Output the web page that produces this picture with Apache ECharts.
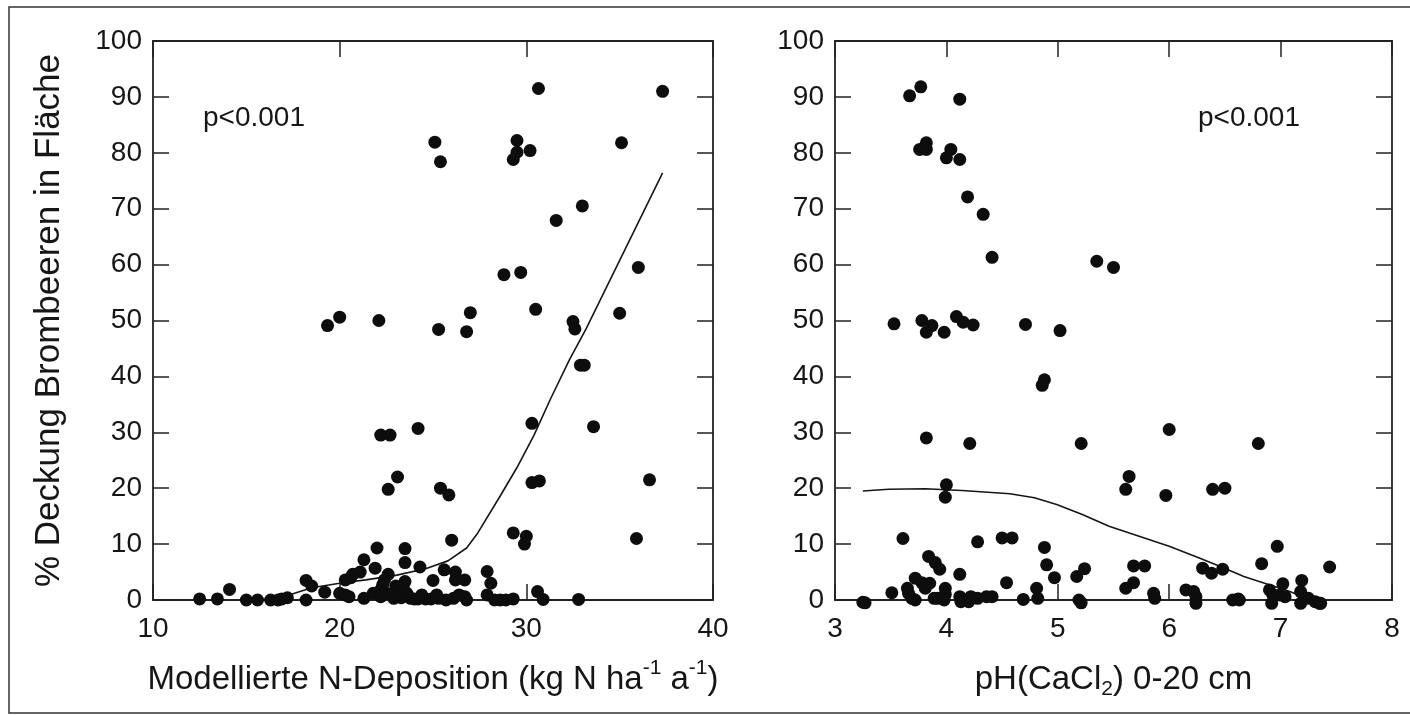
<!DOCTYPE html>
<html>
<head>
<meta charset="utf-8">
<script src="https://cdn.jsdelivr.net/npm/echarts@6/dist/echarts.min.js"></script>
<style>
html,body{margin:0;padding:0;background:#fff;}
#chart{width:1410px;height:715px;}
</style>
</head>
<body>
<div id="chart"></div>
<script>
// ---- Data ----
// Left panel: modelled N deposition (kg N ha-1 a-1) vs % bramble cover
const nDepPoints = [
  [30.65,91.5],[37.3,91.0],[25.1,81.9],[25.4,78.4],[29.5,82.2],[29.5,80.1],[29.3,78.8],[30.2,80.4],
  [35.1,81.8],[33.0,70.5],[31.6,67.9],[28.8,58.2],[29.7,58.6],[36.0,59.5],[30.5,52.0],[35.0,51.3],
  [32.5,49.8],[32.6,48.5],[19.35,49.1],[20.0,50.6],[22.1,50.0],[25.3,48.4],[26.8,48.0],[27.0,51.4],
  [32.9,42.0],[33.1,42.0],[33.6,31.0],[30.3,31.6],[22.2,29.5],[22.7,29.5],[24.2,30.7],[23.1,22.0],
  [22.6,19.8],[25.4,20.0],[25.85,18.8],[30.3,21.0],[30.7,21.3],[36.6,21.5],[29.3,12.0],[30.0,11.4],
  [29.9,10.0],[35.9,11.0],[26.0,10.7],[22.0,9.3],[23.5,9.2],[21.3,7.2],[23.5,6.7],[24.3,5.9],
  [25.6,5.4],[26.2,5.0],[27.9,5.1],[21.9,5.7],[20.7,4.6],[20.6,4.0],[20.3,3.6],[21.1,5.0],
  [22.6,4.6],[18.2,3.5],[18.5,2.5],[19.2,1.4],[14.1,1.9],
  [12.5,0.2],[13.45,0.2],[15.0,0],[15.6,0],[16.3,0],[16.7,0],[16.9,0.2],[17.2,0.4],[18.2,0],
  [20.0,1.2],[20.3,0.9],[20.5,0.6],[21.3,0.3],[21.8,1.2],[22.2,1.8],[22.3,2.7],[22.4,3.6],
  [22.2,0.6],[23.0,2.5],[23.1,1.6],[23.2,0.9],[23.3,0.4],[23.4,2.1],[23.6,1.2],[23.8,0.3],
  [24.0,0.2],[24.2,0.2],[24.6,0.2],[25.0,3.5],[25.2,0.9],[25.3,0.3],[25.7,0],[26.1,0.3],
  [26.2,3.6],[26.7,3.6],[26.7,0.6],[26.8,0],[27.9,0.9],[28.1,3.0],[28.3,0],[28.6,0],
  [28.9,0],[29.3,0.2],[30.6,1.5],[30.9,0.1],[32.8,0.1],
  [22.5,1.2],[22.9,0.3],[23.5,3.3],[24.4,0.9],[24.9,0.2],[26.4,0.9]
];
const nDepFit = [
  [16.6,0.5],[17.5,1.1],[18.5,2.2],[20.0,3.0],[21.4,3.6],[23.0,4.4],[24.6,5.6],[25.8,7.0],
  [26.8,9.3],[27.4,12.0],[28.6,18.6],[29.5,23.7],[30.4,29.4],[31.3,36.0],[32.3,42.9],[33.2,48.5],
  [37.3,76.4]
];
// Right panel: pH(CaCl2) 0-20 cm vs % bramble cover
const phPoints = [
  [3.67,90.2],[3.77,91.8],[4.12,89.6],[3.76,80.6],[3.82,81.8],[3.82,80.6],[4.04,80.6],[4.0,79.1],
  [4.12,78.8],[4.19,72.1],[4.33,69.0],[4.41,61.3],[5.35,60.6],[5.50,59.5],[3.53,49.4],[3.78,50.0],
  [3.87,49.1],[3.98,47.9],[3.82,47.9],[4.09,50.7],[4.15,49.7],[4.24,49.2],[4.71,49.3],[5.02,48.2],
  [4.86,38.4],[4.88,39.4],[3.82,29.0],[4.21,28.0],[5.21,28.0],[6.0,30.5],[6.8,28.0],[4.0,20.6],
  [3.99,18.4],[5.61,19.8],[5.64,22.1],[5.97,18.7],[6.39,19.8],[6.5,20.0],[3.61,11.0],[4.28,10.4],
  [4.5,11.1],[4.59,11.1],[4.88,9.4],[4.9,6.3],[6.97,9.6],[6.83,6.5],[7.44,5.9],[5.68,6.1],
  [5.78,6.1],[6.3,5.7],[6.38,4.8],[6.48,5.5],[5.24,5.6],[5.17,4.2],[4.97,4.0],[4.54,3.1],
  [4.12,4.6],[3.84,7.8],[3.9,6.7],[3.94,5.5],[3.72,3.9],[3.78,3.1],[3.85,3.0],[3.81,2.1],
  [3.65,2.1],[3.66,1.2],[3.69,0.3],[3.72,0],[3.51,1.3],[3.25,-0.4],[3.27,-0.5],[3.99,2.1],
  [3.99,1.0],[3.98,0],[3.89,0.3],[3.92,0.3],[4.12,0.6],[4.13,-0.3],[4.2,-0.3],[4.22,0.6],
  [4.28,0.3],[4.36,0.6],[4.41,0.6],[4.69,0.1],[4.81,2.1],[4.82,0.3],[5.19,0],[5.21,-0.5],
  [5.61,2.1],[5.68,3.1],[5.86,1.2],[5.87,0.3],[6.15,1.8],[6.22,1.5],[6.24,0.6],[6.24,-0.6],
  [6.57,0],[6.62,0.2],[6.63,0],[6.9,1.8],[6.93,0.9],[6.92,-0.6],[7.02,2.9],[7.04,0.6],
  [6.99,0.9],[7.19,3.5],[7.18,1.5],[7.18,-0.6],[7.25,0.3],[7.31,-0.3],[7.35,-0.6],[7.36,-0.6]
];
const phFit = [
  [3.25,19.5],[3.48,19.8],[3.81,19.9],[4.14,19.6],[4.57,19.0],[4.79,18.3],[4.99,17.1],[5.22,15.3],
  [5.46,13.2],[5.73,11.4],[6.0,9.6],[6.27,7.5],[6.47,5.9],[6.67,4.2],[6.87,2.9],[7.07,1.6],[7.15,1.0]
];
const leftXRange = [10, 40, 10];
const rightXRange = [3, 8, 1];
const yRange = [0, 100, 10];
const pLabel = 'p<0.001';
const yTitle = '% Deckung Brombeeren in Fläche';

// ---- Styling ----
const FONT = 'Liberation Sans, Arial, Helvetica, sans-serif';
const INK = '#161616';
const FRAME = '#222';

function xAxisPair(grid, range, name) {
  const base = {
    gridIndex: grid, type: 'value', min: range[0], max: range[1], interval: range[2],
    splitLine: {show: false},
    axisLine: {show: true, onZero: false, lineStyle: {color: FRAME, width: 1.8}},
    axisTick: {show: true, inside: true, length: 16, lineStyle: {color: FRAME, width: 1.5}}
  };
  return [
    Object.assign({}, base, {
      position: 'bottom',
      axisLabel: {show: true, margin: 15, color: INK, fontSize: 28, fontFamily: FONT},
      name: name.text, nameLocation: 'middle', nameGap: name.gap,
      nameTextStyle: name.style
    }),
    Object.assign({}, base, {position: 'top', axisLabel: {show: false}})
  ];
}
function yAxisPair(grid, withName) {
  const base = {
    gridIndex: grid, type: 'value', min: yRange[0], max: yRange[1], interval: yRange[2],
    splitLine: {show: false},
    axisLine: {show: true, onZero: false, lineStyle: {color: FRAME, width: 1.8}},
    axisTick: {show: true, inside: true, length: 16, lineStyle: {color: FRAME, width: 1.5}}
  };
  const left = Object.assign({}, base, {
    position: 'left',
    axisLabel: {show: true, margin: 11, color: INK, fontSize: 28, fontFamily: FONT}
  });
  if (withName) {
    Object.assign(left, {
      name: yTitle, nameLocation: 'middle', nameGap: 86,
      nameTextStyle: {color: INK, fontSize: 35, fontFamily: FONT}
    });
  }
  return [left, Object.assign({}, base, {position: 'right', axisLabel: {show: false}})];
}

const supRich = {
  base: {fontSize: 33, fontFamily: FONT, color: INK, lineHeight: 40, verticalAlign: 'bottom'},
  sup: {fontSize: 21, fontFamily: FONT, color: INK, lineHeight: 40, verticalAlign: 'top', padding: [2,0,0,0]},
  sub: {fontSize: 21, fontFamily: FONT, color: INK, lineHeight: 40, verticalAlign: 'bottom', padding: [0,0,-4,0]}
};

const leftX = xAxisPair(0, leftXRange, {
  text: '{base|Modellierte N-Deposition (kg N ha}{sup|-1}{base| a}{sup|-1}{base|)}',
  gap: 56,
  style: {rich: supRich, color: INK, fontSize: 33, fontFamily: FONT}
});
const rightX = xAxisPair(1, rightXRange, {
  text: '{base|pH(CaCl}{sub|2}{base|) 0-20 cm}',
  gap: 56,
  style: {rich: supRich, color: INK, fontSize: 33, fontFamily: FONT}
});

const chart = echarts.init(document.getElementById('chart'), null, {renderer: 'canvas'});
chart.setOption({
  backgroundColor: '#ffffff',
  animation: false,
  grid: [
    {left: 153, top: 41, width: 560, height: 559},
    {left: 835, top: 41, width: 557, height: 559}
  ],
  xAxis: [leftX[0], leftX[1], rightX[0], rightX[1]],
  yAxis: [...yAxisPair(0, true), ...yAxisPair(1, false)],
  graphic: [
    {type: 'rect', silent: true, z: -1,
      shape: {x: 9, y: 7, width: 1420, height: 706},
      style: {fill: 'none', stroke: '#333', lineWidth: 1.5}},
    {type: 'text', x: 203, y: 118,
      style: {text: pLabel, fill: INK, font: '28px ' + FONT, verticalAlign: 'middle', align: 'left'}},
    {type: 'text', x: 1198, y: 118,
      style: {text: pLabel, fill: INK, font: '28px ' + FONT, verticalAlign: 'middle', align: 'left'}}
  ],
  series: [
    {type: 'scatter', xAxisIndex: 0, yAxisIndex: 0, data: nDepPoints, symbolSize: 13,
      clip: false, itemStyle: {color: '#0d0d0d', opacity: 1}, z: 3},
    {type: 'line', xAxisIndex: 0, yAxisIndex: 0, data: nDepFit, symbol: 'none', smooth: false,
      lineStyle: {color: INK, width: 1.6}, z: 2},
    {type: 'scatter', xAxisIndex: 2, yAxisIndex: 2, data: phPoints, symbolSize: 13,
      clip: false, itemStyle: {color: '#0d0d0d', opacity: 1}, z: 3},
    {type: 'line', xAxisIndex: 2, yAxisIndex: 2, data: phFit, symbol: 'none', smooth: false,
      lineStyle: {color: INK, width: 1.6}, z: 2}
  ]
});
</script>
</body>
</html>
